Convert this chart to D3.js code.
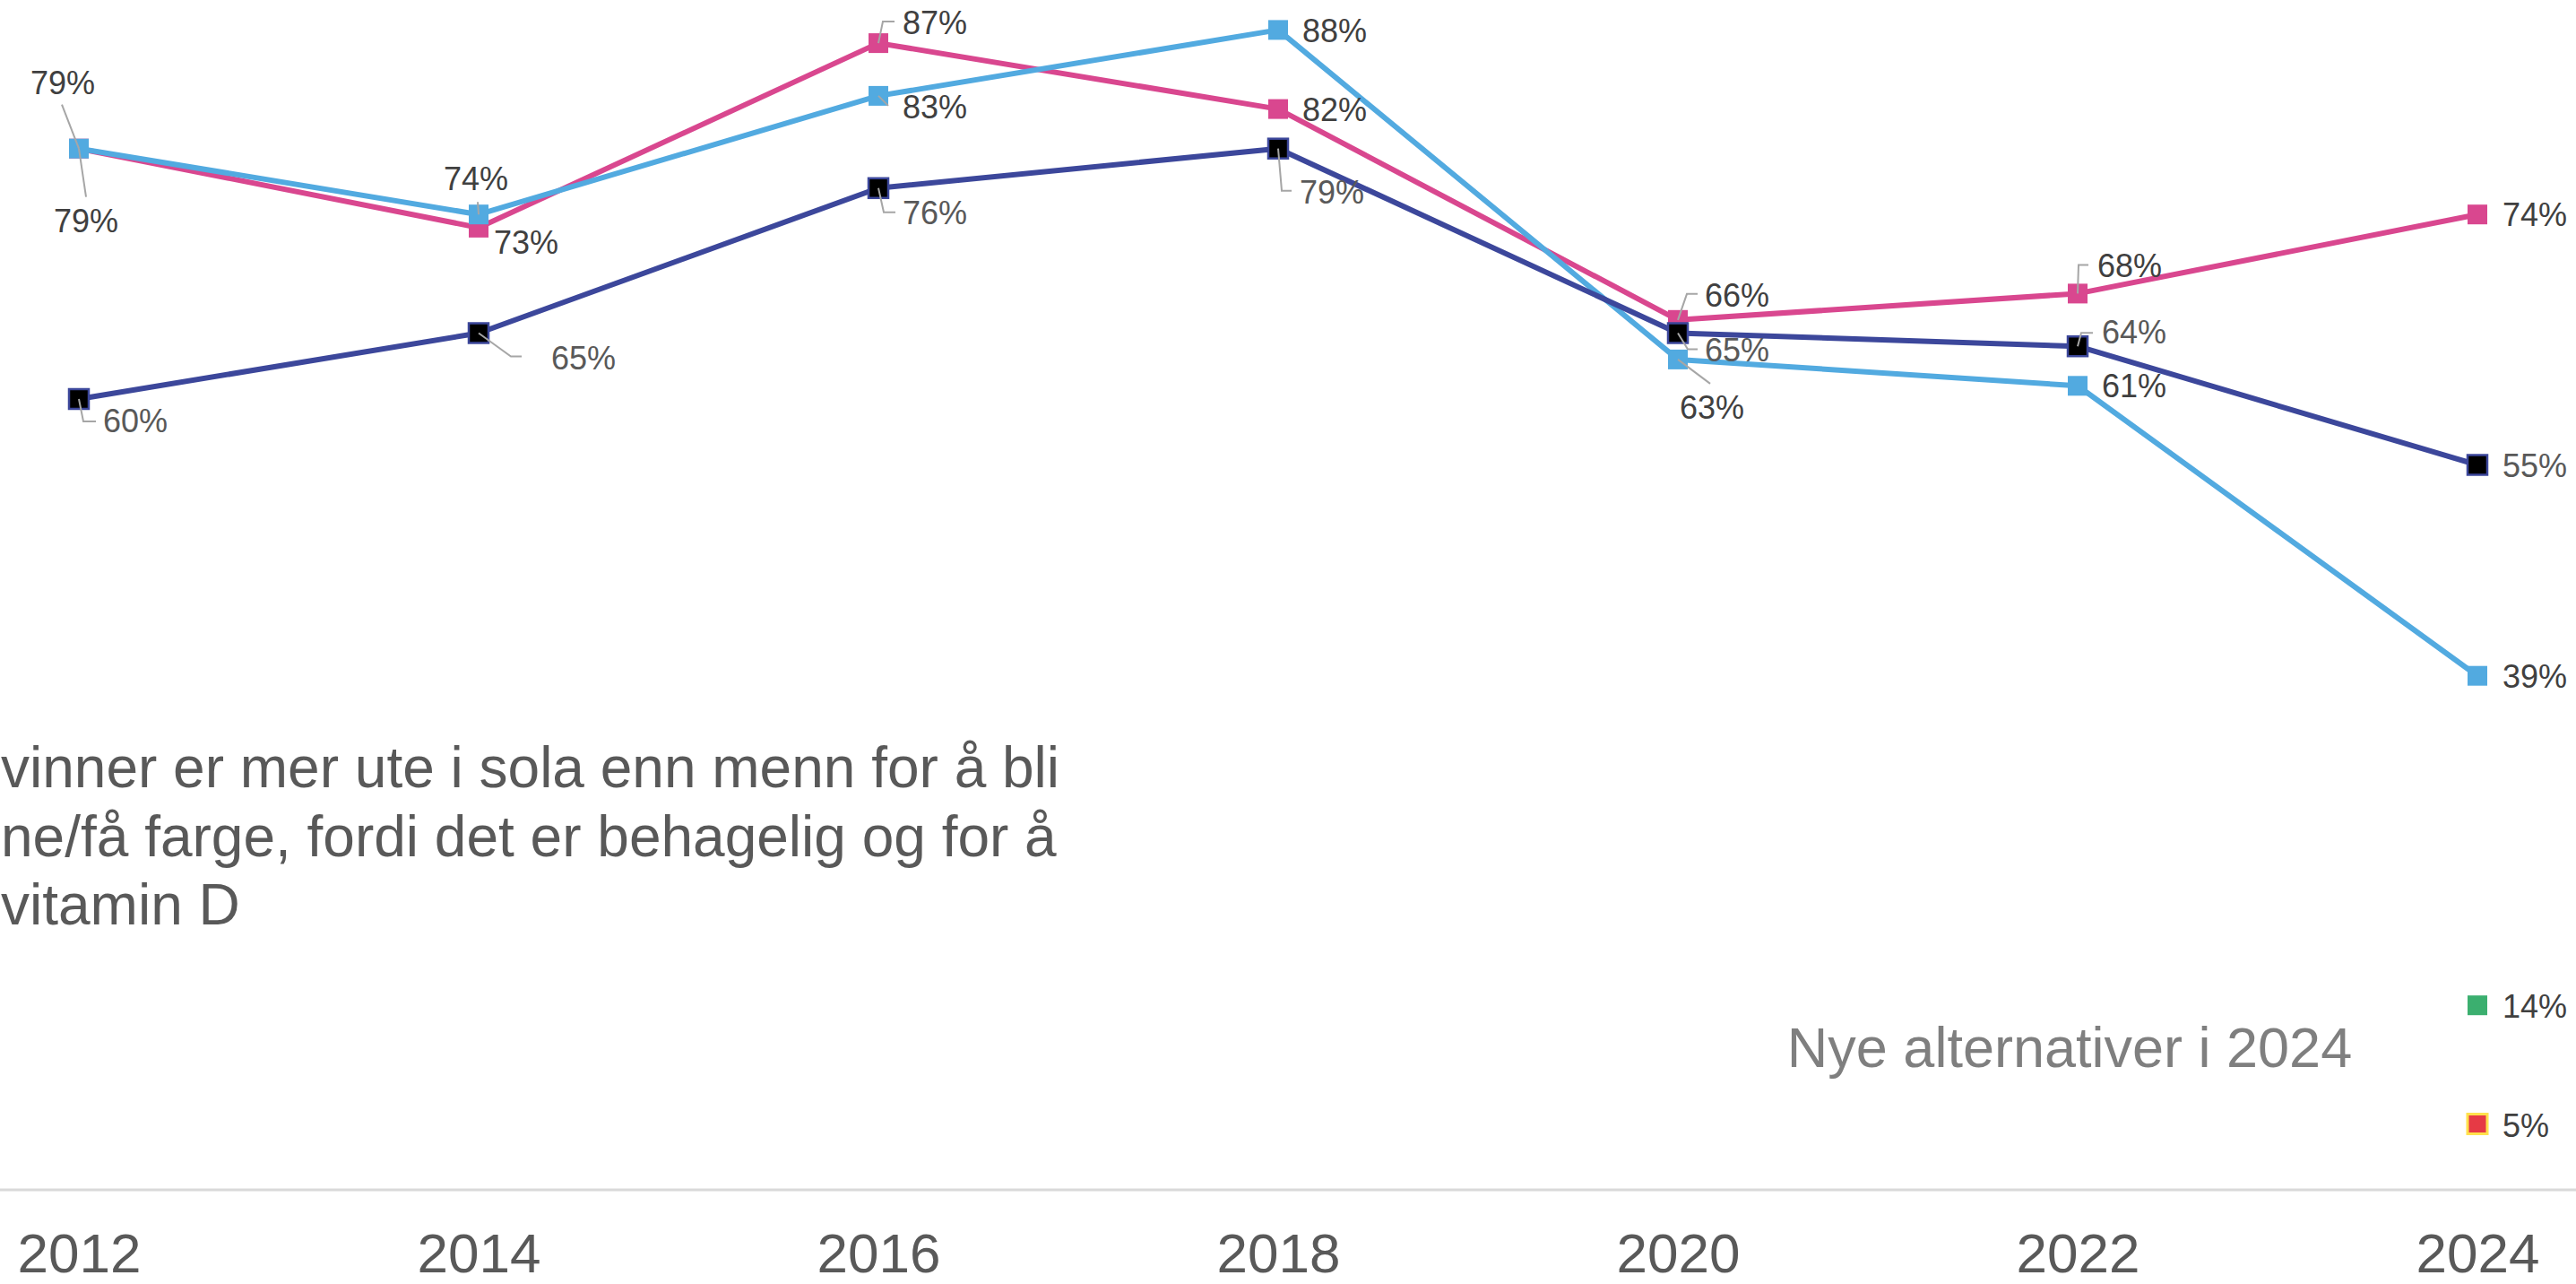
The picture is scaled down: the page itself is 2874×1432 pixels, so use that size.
<!DOCTYPE html>
<html>
<head>
<meta charset="utf-8">
<script src="https://cdn.jsdelivr.net/npm/d3@7"></script>
<style>
  html, body { margin: 0; padding: 0; background: #ffffff; overflow: hidden; }
  svg { display: block; }
  text { font-family: "Liberation Sans", Arial, Helvetica, sans-serif; }
</style>
</head>
<body>
<svg id="chart" width="2874" height="1432"></svg>
<script>
// ---------------- DATA ----------------
const years = [2012, 2014, 2016, 2018, 2020, 2022, 2024];
const yearLabels = ["2012", "2014", "2016", "2018", "2020", "2022", "2024"];

const navyValues = [60, 65, 76, 79, 65, 64, 55];
const pinkValues = [79, 73, 87, 82, 66, 68, 74];
const blueValues = [79, 74, 83, 88, 63, 61, 39];

// New alternatives only in 2024
const newAltYears = [2024];
const greenValues = [14];
const redValues = [5];

const textLines = [
  "vinner er mer ute i sola enn menn for å bli",
  "ne/få farge, fordi det er behagelig og for å",
  "vitamin D"
];
const newAltText = "Nye alternativer i 2024";

// ---------------- LABEL PLACEMENT (offsets from the point, in px) ----------------
// [dx, dy, anchor, leader points relative to point or null]
const navyLabelPos = [
  [27, 37, "start", [[0, 0], [5, 25], [19, 25]]],
  [81, 40, "start", [[0, 0], [36, 26], [48, 26]]],
  [27, 40, "start", [[0, 0], [6, 27], [19, 27]]],
  [24, 61, "start", [[0, 0], [4, 47], [15, 47]]],
  [30, 31, "start", [[0, 0], [11, 18], [22, 18]]],
  [27, -3, "start", [[0, 0], [4, -15], [17, -15]]],
  [28, 13, "start", null]
];
const pinkLabelPos = [
  [8, 93, "middle", [[0, 0], [8, 54]]],
  [17, 29, "start", null],
  [27, -10, "start", [[0, 0], [5, -24], [18, -24]]],
  [27, 13, "start", null],
  [30, -15, "start", [[0, 0], [10, -29], [22, -29]]],
  [22, -18, "start", [[0, 0], [1, -32], [12, -32]]],
  [28, 13, "start", null]
];
const blueLabelPos = [
  [-18, -61, "middle", [[0, 0], [-19, -49]]],
  [-3, -27, "middle", [[-1, -14], [0, 0]]],
  [27, 25, "start", [[0, 0], [11, 11]]],
  [27, 14, "start", null],
  [38, 66, "middle", [[0, 0], [36, 27]]],
  [27, 13, "start", null],
  [28, 13, "start", null]
];

// ---------------- STYLES ----------------
const W = 2874, H = 1432;
const colors = {
  navy: "#3C479B",
  pink: "#D9478F",
  blue: "#52AAE0",
  green: "#3BAF6F",
  red: "#E63A45",
  redStroke: "#FFE14D"
};

const svg = d3.select("#chart");

const x = d3.scaleLinear().domain([2012, 2024]).range([88, 2764]);
const y = d3.scaleLinear().domain([0, 100]).range([1327, -143]);

// baseline axis line (full width)
svg.append("line")
  .attr("x1", 0).attr("x2", W)
  .attr("y1", y(0)).attr("y2", y(0))
  .attr("stroke", "#d9d9d9").attr("stroke-width", 3);

// x axis labels
const xAxis = d3.axisBottom(x)
  .tickValues(years)
  .tickFormat((d, i) => yearLabels[i])
  .tickSize(0);
const gx = svg.append("g")
  .attr("transform", `translate(0,${y(0)})`)
  .call(xAxis);
gx.select(".domain").remove();
gx.selectAll("text")
  .attr("y", 92).attr("dy", 0)
  .attr("font-size", 62)
  .attr("fill", "#595959")
  .attr("font-family", '"Liberation Sans", Arial, sans-serif');

// explanatory text
const tg = svg.append("text")
  .attr("font-size", 64)
  .attr("fill", "#595959");
textLines.forEach((t, i) => {
  tg.append("tspan").attr("x", 1).attr("y", 878 + i * 76.5).text(t);
});

svg.append("text")
  .attr("x", 2309).attr("y", 1190)
  .attr("text-anchor", "middle")
  .attr("font-size", 63)
  .attr("fill", "#7f7f7f")
  .text(newAltText);

// ---------------- SERIES ----------------
const line = d3.line().x(d => x(d.year)).y(d => y(d.value));
const MS = 22;

function makeData(vals) { return years.map((yr, i) => ({ year: yr, value: vals[i] })); }

const series = [
  { key: "pink", vals: pinkValues, color: colors.pink, fill: colors.pink, stroke: "none", labelColor: "#404040", pos: pinkLabelPos },
  { key: "blue", vals: blueValues, color: colors.blue, fill: colors.blue, stroke: "none", labelColor: "#404040", pos: blueLabelPos },
  { key: "navy", vals: navyValues, color: colors.navy, fill: "#000000", stroke: colors.navy, labelColor: "#595959", pos: navyLabelPos }
];

const linesG = svg.append("g");
const markersG = svg.append("g");
const leadersG = svg.append("g");
const labelsG = svg.append("g");

series.forEach(s => {
  const data = makeData(s.vals);
  linesG.append("path")
    .datum(data)
    .attr("d", line)
    .attr("fill", "none")
    .attr("stroke", s.color)
    .attr("stroke-width", 6)
    .attr("stroke-linejoin", "round");

  markersG.append("g").selectAll("rect")
    .data(data).join("rect")
    .attr("x", d => x(d.year) - MS / 2)
    .attr("y", d => y(d.value) - MS / 2)
    .attr("width", MS).attr("height", MS)
    .attr("fill", s.fill)
    .attr("stroke", s.stroke)
    .attr("stroke-width", s.stroke === "none" ? 0 : 2.5);

  data.forEach((d, i) => {
    const p = s.pos[i];
    const px = x(d.year), py = y(d.value);
    if (p[3]) {
      leadersG.append("polyline")
        .attr("points", p[3].map(q => `${px + q[0]},${py + q[1]}`).join(" "))
        .attr("fill", "none")
        .attr("stroke", "#a6a6a6")
        .attr("stroke-width", 2);
    }
    labelsG.append("text")
      .attr("x", px + p[0]).attr("y", py + p[1])
      .attr("text-anchor", p[2])
      .attr("font-size", 36)
      .attr("fill", s.labelColor)
      .text(d.value + "%");
  });
});

// new alternatives (single markers)
const extra = [
  { vals: greenValues, fill: colors.green, stroke: "none" },
  { vals: redValues, fill: colors.red, stroke: colors.redStroke }
];
extra.forEach(e => {
  newAltYears.forEach((yr, i) => {
    const px = x(yr), py = y(e.vals[i]);
    markersG.append("rect")
      .attr("x", px - MS / 2).attr("y", py - MS / 2)
      .attr("width", MS).attr("height", MS)
      .attr("fill", e.fill)
      .attr("stroke", e.stroke)
      .attr("stroke-width", e.stroke === "none" ? 0 : 3);
    labelsG.append("text")
      .attr("x", px + 28).attr("y", py + 14)
      .attr("font-size", 36)
      .attr("fill", "#404040")
      .text(e.vals[i] + "%");
  });
});
</script>
</body>
</html>
